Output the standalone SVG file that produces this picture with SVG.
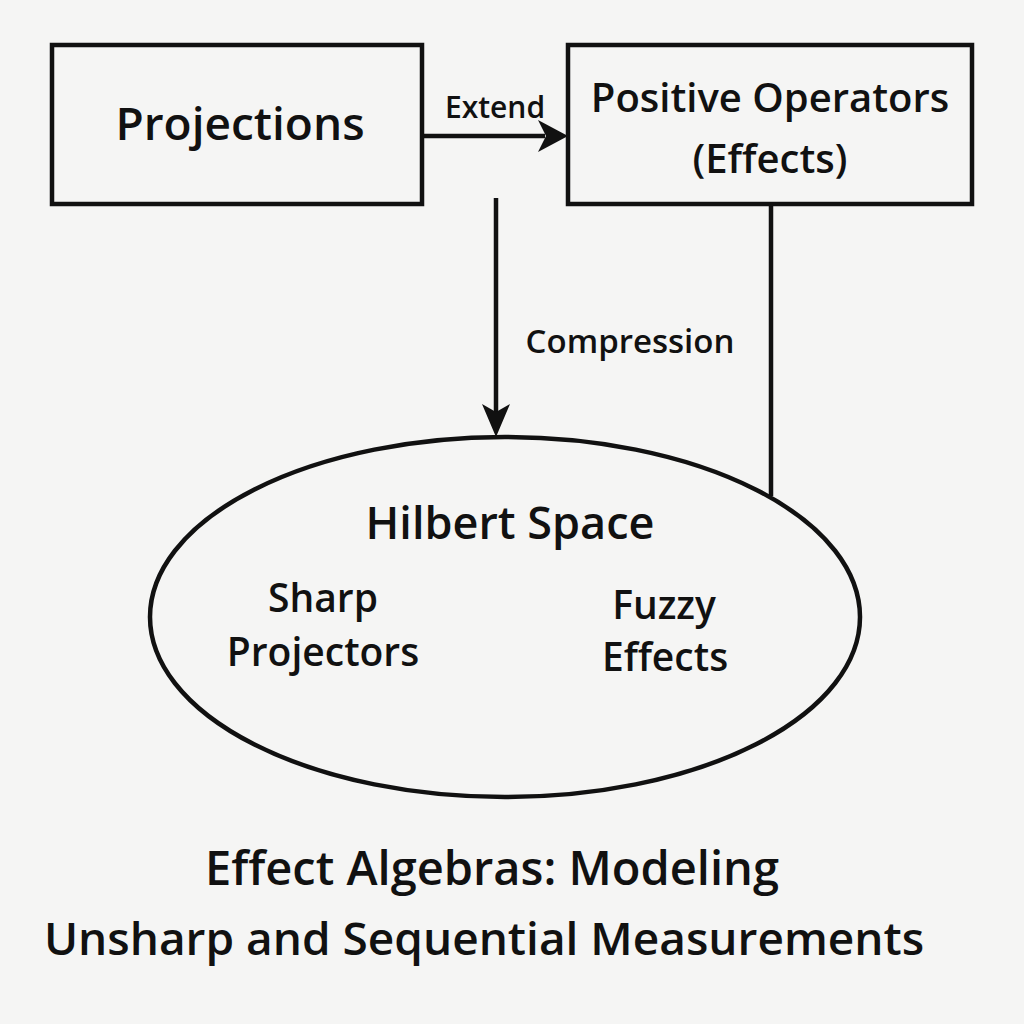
<svg xmlns="http://www.w3.org/2000/svg" width="1024" height="1024" viewBox="0 0 1024 1024">
<style>
.box{fill:none;stroke:#111;stroke-width:4.5}
.ln{fill:none;stroke:#111;stroke-width:4.5}
text{font-family:"Open Sans","Noto Sans",sans-serif;font-weight:600;fill:#111;text-anchor:middle}
</style>
<rect width="1024" height="1024" fill="#f5f5f4"/>
<g id="connectors">
<line class="ln" x1="422" y1="136" x2="545" y2="136"/>
<polygon points="568,136 538,120 546,136 538,152" fill="#111"/>
<line class="ln" x1="496" y1="198" x2="496" y2="415"/>
<polygon points="496,437 482,404 496,412 510,404" fill="#111"/>
<line class="ln" x1="771" y1="204" x2="771" y2="496"/>
<text x="495" y="118" font-size="30">Extend</text>
<text x="630" y="353" font-size="33">Compression</text>
</g>
<g id="projections">
<rect class="box" x="52" y="45" width="370" height="159"/>
<text x="240" y="140" font-size="46">Projections</text>
</g>
<g id="positive-operators">
<rect class="box" x="568" y="45" width="404" height="159"/>
<text x="770" y="112" font-size="40">Positive Operators</text>
<text x="770" y="173" font-size="40">(Effects)</text>
</g>
<g id="hilbert-space">
<ellipse class="box" cx="505" cy="617" rx="355" ry="180"/>
<text x="510" y="539" font-size="45">Hilbert Space</text>
<text x="323" y="612" font-size="39">Sharp</text>
<text x="323" y="666" font-size="39">Projectors</text>
<text x="664" y="619" font-size="39">Fuzzy</text>
<text x="665" y="671" font-size="39">Effects</text>
</g>
<g id="title">
<text x="492" y="885" font-size="47">Effect Algebras: Modeling</text>
<text x="484" y="955" font-size="46">Unsharp and Sequential Measurements</text>
</g>
</svg>
